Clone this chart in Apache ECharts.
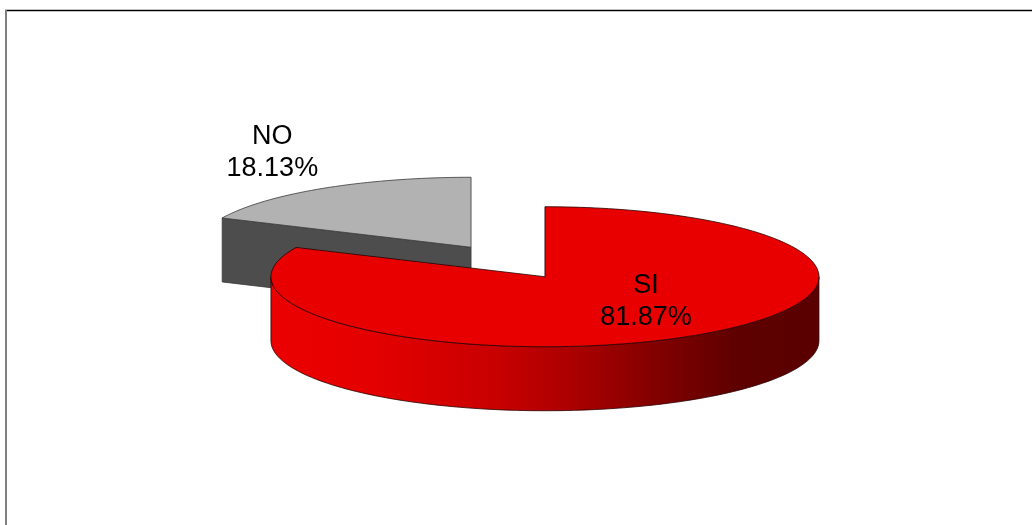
<!DOCTYPE html>
<html>
<head>
<meta charset="utf-8">
<script src="https://cdn.jsdelivr.net/npm/echarts@6/dist/echarts.min.js"></script>
<style>
html,body{margin:0;padding:0;background:#fff;}
#chart{width:1032px;height:525px;}
</style>
</head>
<body>
<div id="chart"></div>
<script>
// ---- data ----
const categories = ['SI', 'NO'];
const values = [81.87, 18.13];

// ---- layout / style (not data) ----
const L = { cx: 508, cy: 262, rx: 274, ry: 70, depth: 64, explode: 0.25 };
const sliceStyle = {
  SI: { top: '#E80000', flat: '#D00000', gradient: true, stroke: '#2a0000' },
  NO: { top: '#B2B2B2', flat: '#4D4D4D', gradient: false, stroke: '#3a3a3a' }
};
const labelPlace = {
  SI: { angleShift: -13.9, radius: 0.508 },
  NO: { angleShift: 4.4, radius: 1.533 }
};
const FONT = '"Liberation Sans", Arial, sans-serif';

const total = values.reduce((a, b) => a + b, 0);
const starts = [];
(function () { let acc = 0; values.forEach(v => { starts.push(acc / total * 360); acc += v; }); })();

function rad(d) { return d * Math.PI / 180; }
function sliceCenter(i) {
  const a0 = starts[i], a1 = a0 + values[i] / total * 360, m = rad((a0 + a1) / 2);
  return [L.cx + L.rx * L.explode * Math.sin(m), L.cy - L.ry * L.explode * Math.cos(m)];
}
function pt(c, t, dy) {
  const r = rad(t);
  return [c[0] + L.rx * Math.sin(r), c[1] - L.ry * Math.cos(r) + (dy || 0)];
}
function arc(c, a, b, dy) {
  const n = Math.max(2, Math.ceil(Math.abs(b - a) / 1.5));
  const out = [];
  for (let k = 0; k <= n; k++) out.push(pt(c, a + (b - a) * k / n, dy));
  return out;
}

const centers = values.map((v, i) => sliceCenter(i));
const order = centers.map((c, i) => i).sort((p, q) => centers[p][1] - centers[q][1]);

const sideGradient = new echarts.graphic.LinearGradient(L.cx + 0 - L.rx + 0, 0, L.cx + L.rx + 80, 0, [
  { offset: 0, color: '#EE0000' },
  { offset: 0.22, color: '#E40000' },
  { offset: 0.42, color: '#C80000' },
  { offset: 0.55, color: '#A80000' },
  { offset: 0.68, color: '#800000' },
  { offset: 0.8, color: '#5E0000' },
  { offset: 1, color: '#580000' }
], true);

function renderItem(params, api) {
  const i = params.dataIndex;
  const name = categories[i];
  const st = sliceStyle[name];
  const v = api.value(0);
  const a0 = starts[i], a1 = a0 + v / total * 360;
  const c = centers[i];
  const base = order.indexOf(i) * 10;
  const children = [];
  const strokeW = 0.8;

  // radial faces
  [[a0, a0 - 90], [a1, a1 + 90]].forEach(([a, nrm]) => {
    if (Math.cos(rad(nrm)) < -1e-6) {
      const p = pt(c, a, 0), q = pt(c, a, L.depth);
      children.push({
        type: 'polygon', z2: base + 1,
        shape: { points: [[c[0], c[1]], p, q, [c[0], c[1] + L.depth]] },
        style: { fill: st.flat, stroke: st.stroke, lineWidth: strokeW }
      });
    }
  });

  // outer wall (front half visible)
  [-360, 0, 360].forEach(k => {
    const s = Math.max(a0, 90 + k), e = Math.min(a1, 270 + k);
    if (e > s) {
      const pts = arc(c, s, e, 0).concat(arc(c, s, e, L.depth).reverse());
      children.push({
        type: 'polygon', z2: base + 2,
        shape: { points: pts },
        style: { fill: st.gradient ? sideGradient : st.flat, stroke: st.stroke, lineWidth: strokeW }
      });
    }
  });

  // top face
  children.push({
    type: 'polygon', z2: base + 3,
    shape: { points: [[c[0], c[1]]].concat(arc(c, a0, a1, 0)) },
    style: { fill: st.top, stroke: st.stroke, lineWidth: strokeW }
  });

  // label
  const lp = labelPlace[name];
  const la = rad((a0 + a1) / 2 + lp.angleShift);
  const lx = c[0] + L.rx * lp.radius * Math.sin(la);
  const ly = c[1] - L.ry * lp.radius * Math.cos(la);
  children.push({
    type: 'text', z2: 100, x: lx, y: ly,
    style: {
      text: name + '\n' + (v / total * 100).toFixed(2) + '%',
      fill: '#000', fontSize: 27, fontFamily: FONT,
      align: 'center', verticalAlign: 'middle', lineHeight: 32
    }
  });

  return { type: 'group', children: children };
}

const chart = echarts.init(document.getElementById('chart'), null, { renderer: 'canvas' });
chart.setOption({
  animation: false,
  backgroundColor: '#ffffff',
  graphic: [
    { type: 'line', shape: { x1: 5, y1: 10.5, x2: 1032, y2: 10.5 }, style: { stroke: '#000', lineWidth: 1.6 } },
    { type: 'line', shape: { x1: 6, y1: 10, x2: 6, y2: 525 }, style: { stroke: '#808080', lineWidth: 2 } }
  ],
  series: [{
    type: 'custom',
    coordinateSystem: 'none',
    renderItem: renderItem,
    data: categories.map((n, i) => ({ name: n, value: [values[i]] }))
  }]
});
</script>
</body>
</html>
